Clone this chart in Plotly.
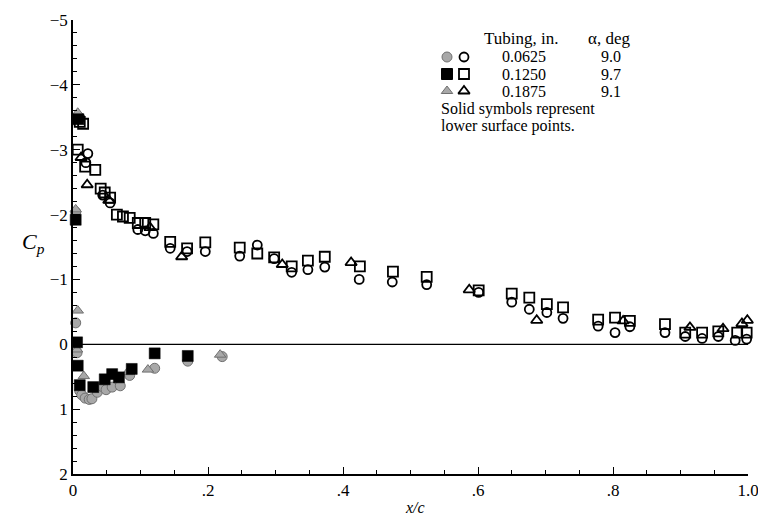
import plotly.graph_objects as go

# ---------------- data ----------------
# Upper surface, open symbols
up_circ_x = [0.010, 0.022, 0.019, 0.044, 0.055, 0.096, 0.107, 0.119, 0.144, 0.169, 0.196,
             0.247, 0.273, 0.298, 0.324, 0.348, 0.373, 0.424, 0.473, 0.524, 0.601, 0.650,
             0.676, 0.702, 0.726, 0.778, 0.803, 0.825, 0.877, 0.907, 0.932, 0.956, 0.981, 0.998]
up_circ_cp = [-3.49, -2.94, -2.80, -2.30, -2.18, -1.77, -1.75, -1.71, -1.48, -1.43, -1.43,
              -1.36, -1.53, -1.32, -1.11, -1.15, -1.19, -1.00, -0.96, -0.92, -0.80, -0.65,
              -0.54, -0.49, -0.40, -0.28, -0.18, -0.27, -0.18, -0.12, -0.09, -0.12, -0.06, -0.08]

up_sq_x = [0.010, 0.015, 0.007, 0.018, 0.033, 0.041, 0.047, 0.055, 0.065, 0.074, 0.084,
           0.096, 0.107, 0.119, 0.144, 0.169, 0.196, 0.247, 0.273, 0.298, 0.324, 0.348,
           0.373, 0.425, 0.474, 0.524, 0.601, 0.650, 0.676, 0.702, 0.726, 0.778, 0.803,
           0.825, 0.877, 0.907, 0.932, 0.956, 0.984, 0.998]
up_sq_cp = [-3.43, -3.40, -3.00, -2.74, -2.69, -2.40, -2.34, -2.26, -2.00, -1.97, -1.95,
            -1.87, -1.87, -1.85, -1.58, -1.48, -1.57, -1.49, -1.40, -1.34, -1.20, -1.29,
            -1.35, -1.20, -1.12, -1.04, -0.83, -0.78, -0.72, -0.62, -0.57, -0.38, -0.41,
            -0.36, -0.31, -0.18, -0.18, -0.20, -0.18, -0.18]

up_tri_x = [0.012, 0.021, 0.053, 0.114, 0.161, 0.310, 0.412, 0.587, 0.687, 0.815,
            0.914, 0.963, 0.991, 0.999]
up_tri_cp = [-2.88, -2.46, -2.22, -1.80, -1.35, -1.23, -1.26, -0.84, -0.37, -0.36,
             -0.26, -0.24, -0.32, -0.37]

# Lower surface, solid symbols
lo_circ_x = [0.004, 0.004, 0.006, 0.010, 0.013, 0.018, 0.024, 0.028, 0.036, 0.043,
             0.049, 0.058, 0.070, 0.084, 0.121, 0.170, 0.221]
lo_circ_cp = [-2.04, -0.33, 0.13, 0.72, 0.78, 0.83, 0.85, 0.84, 0.74, 0.65,
              0.70, 0.66, 0.64, 0.48, 0.37, 0.26, 0.19]

lo_sq_x = [0.008, 0.004, 0.006, 0.007, 0.010, 0.030, 0.047, 0.058, 0.068, 0.087, 0.121, 0.170]
lo_sq_cp = [-3.47, -1.92, -0.03, 0.33, 0.63, 0.66, 0.54, 0.46, 0.51, 0.38, 0.14, 0.18]

lo_tri_x = [0.007, 0.004, 0.007, 0.006, 0.016, 0.081, 0.111, 0.218]
lo_tri_cp = [-3.57, -2.08, -0.52, 0.08, 0.49, 0.43, 0.39, 0.16]

x_tick_vals = [0, 0.2, 0.4, 0.6, 0.8, 1.0]
x_tick_text = ["0", ".2", ".4", ".6", ".8", "1.0"]
y_tick_vals = [-5, -4, -3, -2, -1, 0, 1, 2]
y_tick_text = ["\u22125", "\u22124", "\u22123", "\u22122", "\u22121", "0", "1", "2"]

tubing = ["0.0625", "0.1250", "0.1875"]
alpha = ["9.0", "9.7", "9.1"]

# ---------------- styling ----------------
# The page body has an 8 px margin, so the figure is made 8 px smaller and the
# left/top margins reduced so that the plot area lands at screen x 73..748, y 20..474.
OFF = 8
SCR_W, SCR_H = 766, 521
PL, PR, PT, PB = 73, 748, 20, 474          # plot area in screen pixels
W, H = SCR_W - OFF, SCR_H - OFF
ML, MT = PL - OFF, PT - OFF
MR, MB = SCR_W - PR, SCR_H - PB
FONT = "Liberation Serif"
GRAY = "#a8a8a8"
GRAY_LINE = "#707070"

def px(xp, yp):
    """screen pixel position -> paper fraction"""
    return (xp - PL) / (PR - PL), 1 - (yp - PT) / (PB - PT)

open_style = dict(color="black", line=dict(width=1.8, color="black"))

fig = go.Figure()

# zero line
fig.add_shape(type="line", x0=0, x1=1, y0=0, y1=0, xref="x", yref="y",
              line=dict(color="black", width=1.3), layer="below")

fig.add_trace(go.Scatter(x=up_circ_x, y=up_circ_cp, mode="markers",
                         marker=dict(symbol="circle-open", size=9, **open_style)))
fig.add_trace(go.Scatter(x=up_sq_x, y=up_sq_cp, mode="markers",
                         marker=dict(symbol="square-open", size=10, **open_style)))
fig.add_trace(go.Scatter(x=up_tri_x, y=up_tri_cp, mode="markers",
                         marker=dict(symbol="triangle-up-open", size=10, **open_style)))
fig.add_trace(go.Scatter(x=lo_circ_x, y=lo_circ_cp, mode="markers",
                         marker=dict(symbol="circle", size=10, color=GRAY,
                                     line=dict(width=1, color=GRAY_LINE))))
fig.add_trace(go.Scatter(x=lo_tri_x, y=lo_tri_cp, mode="markers",
                         marker=dict(symbol="triangle-up", size=10, color=GRAY,
                                     line=dict(width=1, color=GRAY_LINE))))
fig.add_trace(go.Scatter(x=lo_sq_x, y=lo_sq_cp, mode="markers",
                         marker=dict(symbol="square", size=11, color="black",
                                     line=dict(width=0.5, color="black"))))

# ---------------- legend block (overlay axis in paper fractions) ----------------
row_y = [57, 74, 91]
solid_specs = [("circle", GRAY, GRAY_LINE, 10), ("square", "black", "black", 11),
               ("triangle-up", GRAY, GRAY_LINE, 10)]
open_specs = [("circle-open", 9), ("square-open", 10), ("triangle-up-open", 10)]
for i, yy in enumerate(row_y):
    sx, sy = px(447, yy)
    s, c, lc, sz = solid_specs[i]
    fig.add_trace(go.Scatter(x=[sx], y=[sy], xaxis="x2", yaxis="y2", mode="markers",
                             marker=dict(symbol=s, size=sz, color=c, line=dict(width=1, color=lc))))
    ox, oy = px(464, yy)
    s, sz = open_specs[i]
    fig.add_trace(go.Scatter(x=[ox], y=[oy], xaxis="x2", yaxis="y2", mode="markers",
                             marker=dict(symbol=s, size=sz, **open_style)))

ann = []
def add_text(text, xp, yp, anchor="center", size=16):
    ax, ay = px(xp, yp)
    ann.append(dict(text=text, x=ax, y=ay, xref="paper", yref="paper", showarrow=False,
                    xanchor=anchor, yanchor="middle",
                    font=dict(family=FONT, size=size, color="black")))

add_text("Tubing, in.", 521, 39, size=17)
add_text("\u03b1, deg", 609, 39, size=17)
for i, yy in enumerate(row_y):
    add_text(tubing[i], 524, yy)
    add_text(alpha[i], 611, yy)
add_text("Solid symbols represent", 439, 109, anchor="left")
add_text("lower surface points.", 439, 126, anchor="left")

# axis titles
add_text("<i>C<sub>p</sub></i>", 33, 243, size=22)
add_text("<i>x/c</i>", 415, 508, size=16)

axis_common = dict(showline=True, linecolor="black", linewidth=1.5, mirror=False,
                   showgrid=False, zeroline=False, ticks="inside", ticklen=7,
                   tickwidth=1.3, tickcolor="black", automargin=False,
                   tickfont=dict(family=FONT, size=17, color="black"))

fig.update_layout(
    width=W, height=H,
    margin=dict(l=ML, r=MR, t=MT, b=MB),
    paper_bgcolor="white", plot_bgcolor="white",
    showlegend=False,
    annotations=ann,
    xaxis=dict(range=[0, 1.0], tickvals=x_tick_vals, ticktext=x_tick_text,
               minor=dict(dtick=0.05, ticks="inside", ticklen=4, tickwidth=1.1, tickcolor="black"),
               **axis_common),
    yaxis=dict(range=[2, -5], tickvals=y_tick_vals, ticktext=y_tick_text,
               minor=dict(dtick=0.2, ticks="inside", ticklen=4, tickwidth=1.1, tickcolor="black"),
               **axis_common),
    xaxis2=dict(overlaying="x", range=[0, 1], visible=False, anchor="y2"),
    yaxis2=dict(overlaying="y", range=[0, 1], visible=False, anchor="x2"),
)
fig.update_traces(cliponaxis=False)

fig.write_html("out.html")
